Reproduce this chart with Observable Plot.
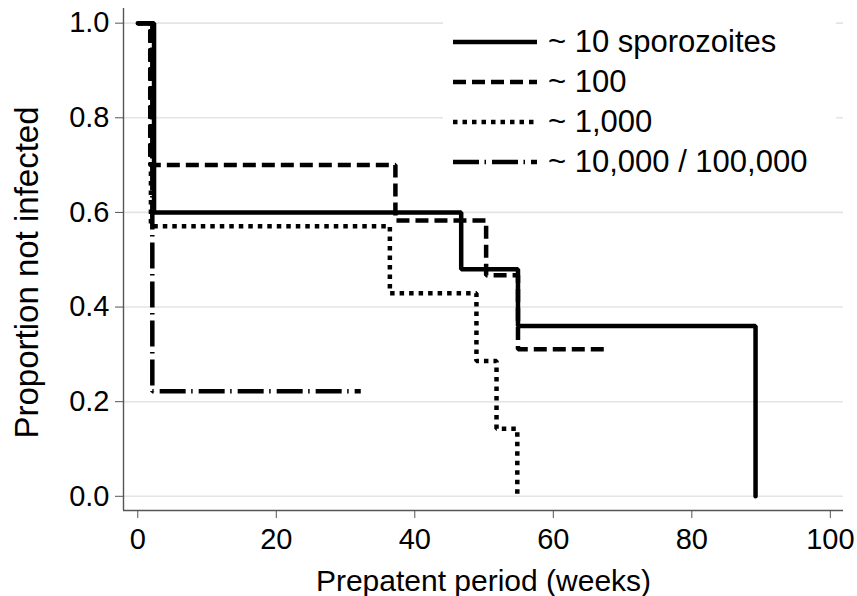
<!DOCTYPE html>
<html>
<head>
<meta charset="utf-8">
<script src="https://cdn.jsdelivr.net/npm/d3@7"></script>
<script src="https://cdn.jsdelivr.net/npm/@observablehq/plot@0.6"></script>
<style>
  html, body { margin: 0; padding: 0; background: #fff; }
  #wrap { position: relative; width: 857px; height: 596px; font-family: "Liberation Sans", Arial, Helvetica, sans-serif; }
  #legend { position: absolute; left: 443px; top: 22px; width: 393px; background: #fff; padding: 0; }
  .row { display: flex; align-items: center; height: 40px; }
  .row svg { flex: none; margin-left: 10px; }
  .row span { font-size: 31px; margin-left: 11px; white-space: nowrap; color: #000; }
</style>
</head>
<body>
<div id="wrap"></div>
<script>
// ---- data (Kaplan-Meier steps) ----
const seriesNames = ["~ 10 sporozoites", "~ 100", "~ 1,000", "~ 10,000 / 100,000"];
const weeks10   = [0, 2.35, 46.7, 54.9, 89.2];
const surv10    = [1, 0.6, 0.48, 0.36, 0];
const weeks100  = [0, 1.8, 37.2, 50.3, 54.9, 68.1];
const surv100   = [1, 0.7, 0.583, 0.467, 0.311, 0.311];
const weeks1000 = [0, 1.9, 36.4, 48.9, 51.8, 54.8];
const surv1000  = [1, 0.571, 0.429, 0.286, 0.143, 0];
const weeks1e4  = [0, 2.1, 32.2];
const surv1e4   = [1, 0.222, 0.222];
const xTicks = [0, 20, 40, 60, 80, 100];
const yTicks = [0, 0.2, 0.4, 0.6, 0.8, 1.0];
const xDomain = [-2.06, 101.9];
const yDomain = [-0.03, 1.031];

// styles per series
const dashes = [null, "13,6", "4.5,5", "26,5.5,1.5,6"];
const caps = ["round", "butt", "butt", "butt"];

const allWeeks = [weeks10, weeks100, weeks1000, weeks1e4];
const allSurv = [surv10, surv100, surv1000, surv1e4];
const tables = allWeeks.map((w, i) => w.map((x, j) => ({x, y: allSurv[i][j]})));

const font = '"Liberation Sans", Arial, Helvetica, sans-serif';

const chart = Plot.plot({
  width: 857,
  height: 596,
  marginLeft: 123,
  marginRight: 14,
  marginTop: 8,
  marginBottom: 86,
  x: {domain: xDomain},
  y: {domain: yDomain},
  style: {fontFamily: font, fontSize: "29px", color: "#000", background: "#fff", overflow: "visible"},
  marks: [
    Plot.gridY(yTicks, {stroke: "#e4e4e4", strokeOpacity: 1, strokeWidth: 1.6}),
    Plot.ruleX([xDomain[0]], {stroke: "#555", strokeWidth: 1.4}),
    Plot.ruleY([yDomain[0]], {stroke: "#555", strokeWidth: 1.4}),
    Plot.axisY(yTicks, {tickFormat: d => d.toFixed(1), tickSize: 8, tickPadding: 6, label: null, stroke: "#555", fontSize: 29}),
    Plot.axisX(xTicks, {tickSize: 8, tickPadding: 10, label: null, stroke: "#555", fontSize: 29}),
    ...tables.map((t, i) => Plot.line(t, {
      x: "x", y: "y", curve: "step-after", stroke: "#000", strokeWidth: 4.5,
      strokeDasharray: dashes[i], strokeLinecap: caps[i], strokeLinejoin: "miter"
    })),
    Plot.text(["Prepatent period (weeks)"], {frameAnchor: "bottom", dy: 71, fontSize: 30, lineAnchor: "middle", textAnchor: "middle", fill: "#000"}),
    Plot.text(["Proportion not infected"], {frameAnchor: "left", dx: -96, dy: 13, rotate: -90, fontSize: 33, lineAnchor: "middle", textAnchor: "middle", fill: "#000"})
  ]
});

const wrap = document.getElementById("wrap");
wrap.appendChild(chart);

// legend overlay
const legend = document.createElement("div");
legend.id = "legend";
seriesNames.forEach((name, i) => {
  const row = document.createElement("div");
  row.className = "row";
  const ns = "http://www.w3.org/2000/svg";
  const svg = document.createElementNS(ns, "svg");
  svg.setAttribute("width", 84);
  svg.setAttribute("height", 10);
  const ln = document.createElementNS(ns, "line");
  ln.setAttribute("x1", 0); ln.setAttribute("x2", 84);
  ln.setAttribute("y1", 5); ln.setAttribute("y2", 5);
  ln.setAttribute("stroke", "#000");
  ln.setAttribute("stroke-width", 4.5);
  if (dashes[i]) ln.setAttribute("stroke-dasharray", dashes[i]);
  svg.appendChild(ln);
  const span = document.createElement("span");
  span.textContent = name;
  row.appendChild(svg);
  row.appendChild(span);
  legend.appendChild(row);
});
wrap.appendChild(legend);
</script>
</body>
</html>
